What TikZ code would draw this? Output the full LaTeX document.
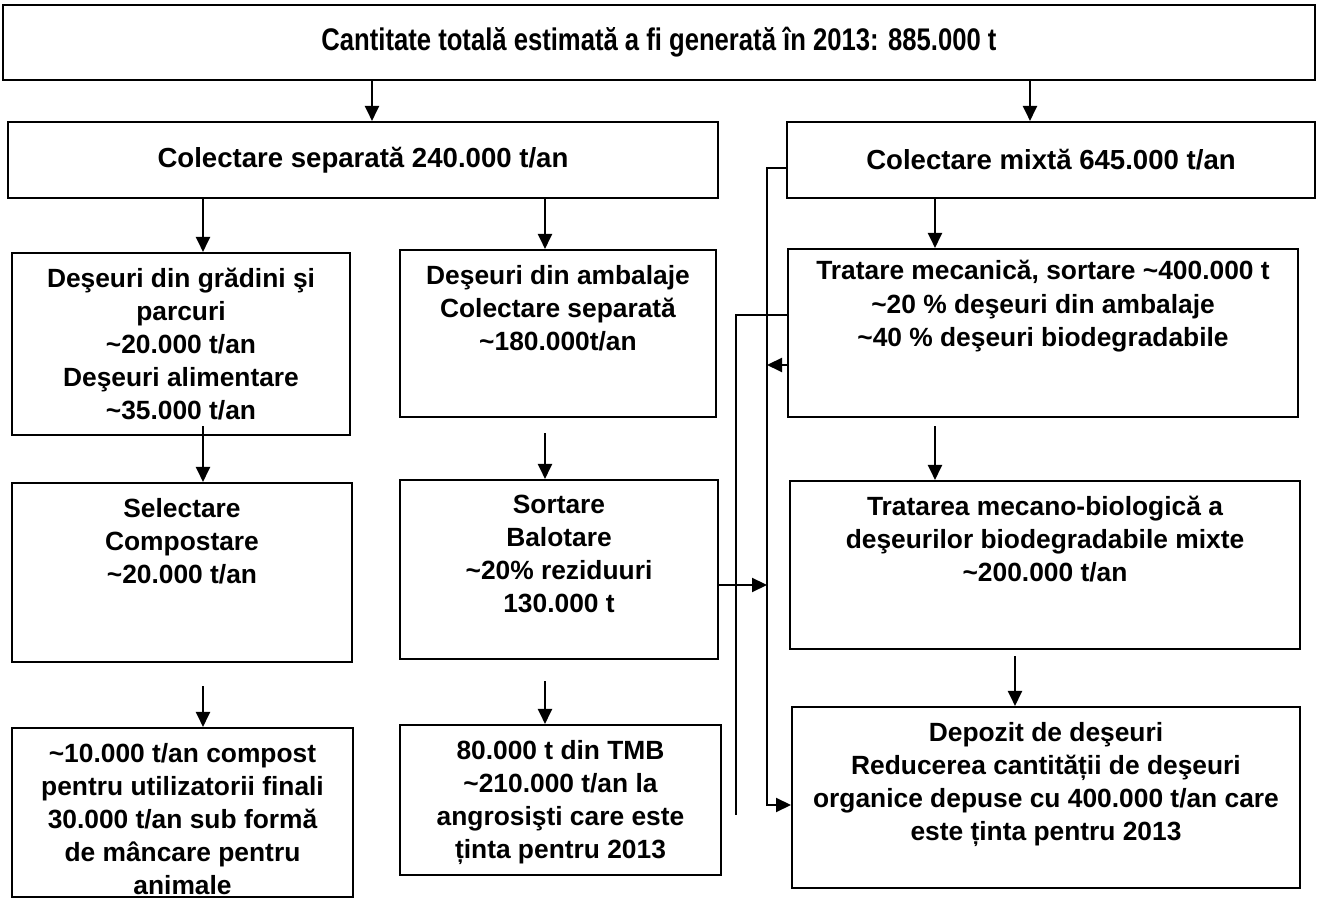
\documentclass[tikz,border=0pt]{standalone}
\usepackage{fontspec}
\setmainfont{Liberation Sans}
\newfontfamily\narrowfont{Liberation Sans}[FakeStretch=0.82]
\usetikzlibrary{positioning,arrows.meta}

\tikzset{
  box/.style={draw,line width=1.2pt,inner sep=0pt},
  txt/.style={align=center,inner sep=0pt,font=\bfseries\fontsize{15}{18.8}\selectfont},
  arr/.style={line width=1.2pt,-{Triangle[length=0.3cm,width=0.28cm]}},
  link/.style={line width=1.2pt}
}

\begin{document}
\begin{tikzpicture}[x=0.02cm,y=-0.02cm]
    \useasboundingbox (0,0) rectangle (1322,901);

    % Columns of the arrows
    \coordinate (xa) at (372,0);
    \coordinate (xb) at (1030,0);
    \coordinate (xc) at (203,0);
    \coordinate (xd) at (545,0);
    \coordinate (xe) at (935,0);
    \coordinate (xf) at (1015,0);
    \coordinate (xg) at (767,0);

    % Top rows
    \node[box,minimum width=26.24cm,minimum height=1.5cm,
          font=\narrowfont\bfseries\fontsize{17.8}{20}\selectfont] (total) at (659,42.5)
          {Cantitate totală estimată a fi generată în 2013: 885.000 t};
    \node[box,minimum width=14.2cm,minimum height=1.52cm,
          font=\bfseries\fontsize{15.7}{18}\selectfont] (sep) at (363,160)
          {Colectare separată 240.000 t/an};
    \node[box,minimum width=10.56cm,minimum height=1.52cm,
          font=\bfseries\fontsize{15.7}{18}\selectfont] (mix) at (1051,160)
          {Colectare mixtă 645.000 t/an};

    % Left column
    \node[box,minimum width=6.76cm,minimum height=3.64cm] (garden) at (181,344) {};
    \node[txt,below=9pt of garden.north] (garden-t)
          {Deşeuri din grădini şi\\parcuri\\\textasciitilde20.000 t/an\\Deşeuri alimentare\\\textasciitilde35.000 t/an};
    \node[box,minimum width=6.8cm,minimum height=3.58cm] (compost) at (182,572.5) {};
    \node[txt,below=9pt of compost.north] (compost-t)
          {Selectare\\Compostare\\\textasciitilde20.000 t/an};
    \node[box,minimum width=6.82cm,minimum height=3.38cm] (food) at (182.5,812.5) {};
    \node[txt,below=9pt of food.north] (food-t)
          {\textasciitilde10.000 t/an compost\\pentru utilizatorii finali\\30.000 t/an sub formă\\de mâncare pentru\\animale};

    % Middle column
    \node[box,minimum width=6.32cm,minimum height=3.34cm] (pack) at (558,333.5) {};
    \node[txt,below=9pt of pack.north] (pack-t)
          {Deşeuri din ambalaje\\Colectare separată\\\textasciitilde180.000t/an};
    \node[box,minimum width=6.36cm,minimum height=3.58cm] (sort) at (559,569.5) {};
    \node[txt,below=9pt of sort.north] (sort-t)
          {Sortare\\Balotare\\\textasciitilde20\% reziduuri\\130.000 t};
    \node[box,minimum width=6.42cm,minimum height=3cm] (tmb) at (560.5,800) {};
    \node[txt,below=9pt of tmb.north] (tmb-t)
          {80.000 t din TMB\\\textasciitilde210.000 t/an la\\angrosişti care este\\ținta pentru 2013};

    % Right column
    \node[box,minimum width=10.2cm,minimum height=3.36cm] (mech) at (1043,333) {};
    \node[txt,below=7pt of mech.north] (mech-t)
          {Tratare mecanică, sortare \textasciitilde400.000 t\\\textasciitilde20 \% deşeuri din ambalaje\\\textasciitilde40 \% deşeuri biodegradabile};
    \node[box,minimum width=10.2cm,minimum height=3.36cm] (mbt) at (1045,565) {};
    \node[txt,below=9pt of mbt.north] (mbt-t)
          {Tratarea mecano-biologică a\\deşeurilor biodegradabile mixte\\\textasciitilde200.000 t/an};
    \node[box,minimum width=10.16cm,minimum height=3.62cm] (depozit) at (1046,797.5) {};
    \node[txt,below=9pt of depozit.north] (depozit-t)
          {Depozit de deşeuri\\Reducerea cantității de deşeuri\\organice depuse cu 400.000 t/an care\\este ținta pentru 2013};

    % Arrows down
    \draw[arr] (total.south -| xa) -- (sep.north -| xa);
    \draw[arr] (total.south -| xb) -- (mix.north -| xb);
    \draw[arr] (sep.south -| xc) -- (garden.north -| xc);
    \draw[arr] (sep.south -| xd) -- (pack.north -| xd);
    \draw[arr] (mix.south -| xe) -- (mech.north -| xe);
    \draw[arr,shorten <=-0.2cm] (garden.south -| xc) -- (compost.north -| xc);
    \draw[arr,shorten <=0.3cm] (pack.south -| xd) -- (sort.north -| xd);
    \draw[arr,shorten <=0.16cm] (mech.south -| xe) -- (mbt.north -| xe);
    \draw[arr,shorten <=0.46cm] (compost.south -| xc) -- (food.north -| xc);
    \draw[arr,shorten <=0.42cm] (sort.south -| xd) -- (tmb.north -| xd);
    \draw[arr,shorten <=0.12cm] (mbt.south -| xf) -- (depozit.north -| xf);

    % Side lines
    \coordinate (mout) at ([yshift=-0.16cm]mix.west);
    \coordinate (dpin) at ([yshift=-0.15cm]depozit.west);
    \coordinate (mech2) at ([yshift=0.36cm]mech.west);
    \coordinate (mech3) at ([yshift=-0.64cm]mech.west);
    \coordinate (sort3) at ([yshift=-0.31cm]sort.east);
    \coordinate (tail) at (736,815);

    \draw[arr] (mout) -| (xg |- dpin) -- (dpin);
    \draw[link] (mech2) -| (tail);
    \draw[arr] (mech3) -- (mech3 -| xg);
    \draw[arr] (sort3) -- (sort3 -| xg);
\end{tikzpicture}
\end{document}
